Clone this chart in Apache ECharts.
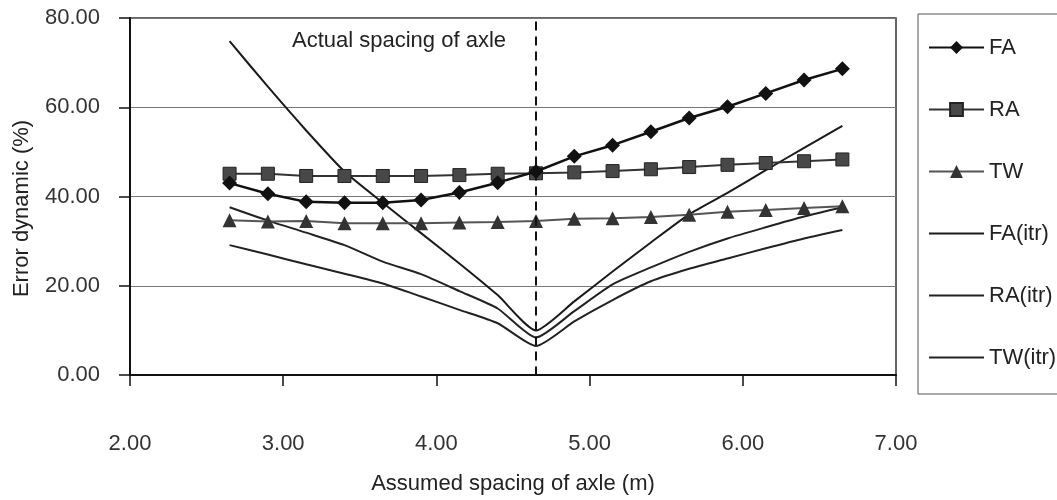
<!DOCTYPE html>
<html>
<head>
<meta charset="utf-8">
<script src="https://cdn.jsdelivr.net/npm/echarts@6/dist/echarts.min.js"></script>
<style>
  html, body { margin: 0; padding: 0; background: #ffffff; }
  #chart { width: 1057px; height: 500px; }
</style>
</head>
<body>
<div id="chart"></div>
<script>
// Assumed spacing of axle (m)
const spacing = [2.65, 2.90, 3.15, 3.40, 3.65, 3.90, 4.15, 4.40, 4.65, 4.90, 5.15, 5.40, 5.65, 5.90, 6.15, 6.40, 6.65];
// Error dynamic (%)
const FA = [43.0, 40.6, 38.8, 38.6, 38.6, 39.2, 40.9, 43.1, 45.6, 49.0, 51.5, 54.5, 57.6, 60.1, 63.1, 66.1, 68.6];
const RA = [45.1, 45.1, 44.6, 44.6, 44.6, 44.6, 44.8, 45.1, 45.2, 45.4, 45.7, 46.1, 46.6, 47.1, 47.5, 47.9, 48.3];
const TW = [34.7, 34.4, 34.5, 34.0, 34.0, 34.0, 34.2, 34.3, 34.5, 35.0, 35.1, 35.4, 35.9, 36.6, 37.0, 37.4, 37.8];
const FA_itr = [74.8, 64.6, 54.8, 45.6, 38.6, 31.8, 25.0, 17.9, 10.0, 16.5, 23.2, 29.7, 36.0, 40.8, 45.9, 50.9, 55.8];
const RA_itr = [37.6, 34.6, 31.9, 29.1, 25.4, 22.6, 18.8, 14.9, 8.4, 14.3, 20.3, 24.1, 27.6, 30.6, 33.1, 35.5, 37.6];
const TW_itr = [29.1, 27.0, 24.8, 22.7, 20.5, 17.6, 14.6, 11.6, 6.5, 12.0, 16.8, 21.0, 23.8, 26.1, 28.4, 30.6, 32.5];
const actualSpacing = 4.65;
const xTicks = [2, 3, 4, 5, 6, 7];
const yTicks = [0, 20, 40, 60, 80];

const FONT = "'Liberation Sans', Arial, sans-serif";
const pair = (ys) => spacing.map((x, i) => [x, ys[i]]);

const chart = echarts.init(document.getElementById('chart'), null, { renderer: 'canvas' });

chart.setOption({
  animation: false,
  backgroundColor: '#ffffff',
  textStyle: { fontFamily: FONT },
  grid: {
    left: 130, right: 161, top: 18, bottom: 125,
    show: true, borderColor: '#333', borderWidth: 1.5, backgroundColor: 'transparent'
  },
  graphic: [{
    type: 'text', left: 292, top: 30,
    style: { text: 'Actual spacing of axle', fontSize: 22, fontFamily: FONT, fill: '#222' }
  }],
  legend: {
    orient: 'vertical', left: 918, top: 14,
    itemWidth: 55, itemHeight: 16, itemGap: 37,
    padding: [21, 90, 24, 10],
    borderColor: '#555', borderWidth: 1,
    selectedMode: false,
    textStyle: { fontSize: 22, color: '#222', fontFamily: FONT, lineHeight: 25 },
    data: [
      'FA', 'RA', 'TW',
      { name: 'FA(itr)', itemStyle: { opacity: 0 } },
      { name: 'RA(itr)', itemStyle: { opacity: 0 } },
      { name: 'TW(itr)', itemStyle: { opacity: 0 } }
    ]
  },
  xAxis: {
    type: 'value', min: xTicks[0], max: xTicks[xTicks.length - 1], interval: 1,
    name: 'Assumed spacing of axle (m)', nameLocation: 'middle', nameGap: 98,
    nameTextStyle: { fontSize: 22, color: '#222', fontFamily: FONT },
    axisLine: { show: true, onZero: false, lineStyle: { color: '#111', width: 2 } },
    axisTick: { show: true, inside: false, length: 11, lineStyle: { color: '#111', width: 1.5 } },
    axisLabel: { margin: 58, fontSize: 22, color: '#333', fontFamily: FONT,
      formatter: (v) => v.toFixed(2) },
    splitLine: { show: false }
  },
  yAxis: {
    type: 'value', min: yTicks[0], max: yTicks[yTicks.length - 1], interval: 20,
    name: 'Error dynamic (%)', nameLocation: 'middle', nameGap: 97,
    nameTextStyle: { fontSize: 22, color: '#222', fontFamily: FONT, padding: [0, 24, 0, 0] },
    axisLine: { show: true, onZero: false, lineStyle: { color: '#111', width: 2 } },
    axisTick: { show: true, inside: false, length: 11, lineStyle: { color: '#111', width: 1.5 } },
    axisLabel: { margin: 30, fontSize: 22, color: '#333', fontFamily: FONT,
      formatter: (v) => v.toFixed(2) },
    splitLine: { show: true, lineStyle: { color: '#777', width: 1 } }
  },
  series: [
    {
      name: 'FA', type: 'line', data: pair(FA),
      symbol: 'diamond', symbolSize: 15,
      itemStyle: { color: '#111' },
      lineStyle: { color: '#111', width: 2.5 },
      z: 5,
      markLine: {
        silent: true, symbol: ['none', 'none'], label: { show: false },
        lineStyle: { color: '#111', width: 2, type: [9, 6] },
        data: [[{ coord: [actualSpacing, 79.2] }, { coord: [actualSpacing, 0] }]]
      }
    },
    {
      name: 'RA', type: 'line', data: pair(RA),
      symbol: 'rect', symbolSize: 13,
      itemStyle: { color: '#484848', borderColor: '#222', borderWidth: 1 },
      lineStyle: { color: '#333', width: 2 },
      z: 4
    },
    {
      name: 'TW', type: 'line', data: pair(TW),
      symbol: 'triangle', symbolSize: 14,
      itemStyle: { color: '#333' },
      lineStyle: { color: '#555', width: 2 },
      z: 4
    },
    {
      name: 'FA(itr)', type: 'line', data: pair(FA_itr),
      symbol: 'none', smooth: 0.2,
      itemStyle: { color: '#1a1a1a' },
      lineStyle: { color: '#1a1a1a', width: 2 }
    },
    {
      name: 'RA(itr)', type: 'line', data: pair(RA_itr),
      symbol: 'none', smooth: 0.2,
      itemStyle: { color: '#222' },
      lineStyle: { color: '#222', width: 2 }
    },
    {
      name: 'TW(itr)', type: 'line', data: pair(TW_itr),
      symbol: 'none', smooth: 0.2,
      itemStyle: { color: '#222' },
      lineStyle: { color: '#222', width: 2 }
    }
  ]
});
</script>
</body>
</html>
